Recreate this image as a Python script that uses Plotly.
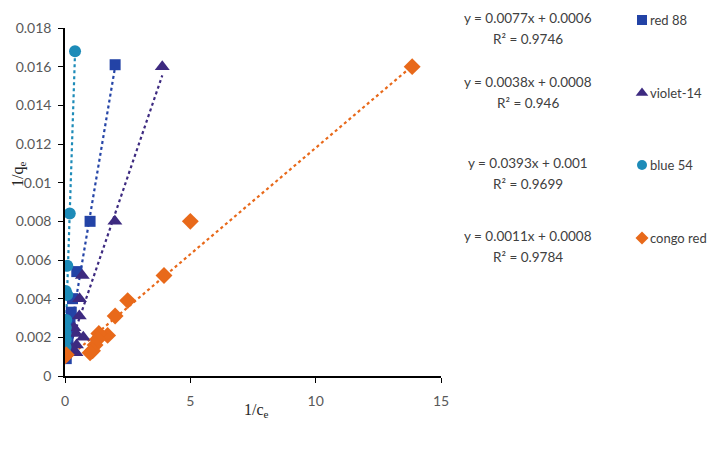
import plotly.graph_objects as go

# data
red88_x = [2.0, 1.0, 0.47, 0.30, 0.25, 0.20, 0.15, 0.12, 0.08, 0.05]
red88_y = [0.0161, 0.0080, 0.0054, 0.0040, 0.0033, 0.0028, 0.0024, 0.0019, 0.0014, 0.0009]

violet_x = [3.88, 1.99, 0.69, 0.58, 0.57, 0.36, 0.44, 0.73, 0.46, 0.44, 0.30]
violet_y = [0.0160, 0.0080, 0.0052, 0.0040, 0.0031, 0.0025, 0.0022, 0.0020, 0.0016, 0.0012, 0.0014]

blue54_x = [0.40, 0.19, 0.09, 0.03, 0.09, 0.05, 0.03, 0.02, 0.03, 0.02, 0.01]
blue54_y = [0.0168, 0.0084, 0.0057, 0.0044, 0.0042, 0.0029, 0.0025, 0.0022, 0.0019, 0.0015, 0.0012]

congo_x = [13.85, 5.0, 3.95, 2.5, 2.0, 1.7, 1.35, 1.3, 1.2, 1.1, 1.0, 0.0, 0.05]
congo_y = [0.0160, 0.0080, 0.0052, 0.0039, 0.0031, 0.0021, 0.0022, 0.0019, 0.0016, 0.0013, 0.0012, 0.00103, 0.0011]

names = ["red 88", "violet-14", "blue 54", "congo red"]
slopes = [0.0077, 0.0038, 0.0393, 0.0011]
intercepts = [0.0006, 0.0008, 0.001, 0.0008]
r2 = ["0.9746", "0.946", "0.9699", "0.9784"]
eq_text = ["y = 0.0077x + 0.0006", "y = 0.0038x + 0.0008", "y = 0.0393x + 0.001", "y = 0.0011x + 0.0008"]

colors = ["#2343A6", "#3D2A80", "#1D8BB8", "#E8691A"]
symbols = ["square", "triangle-up", "circle", "diamond"]
sizes = [11, 13, 12, 13]
xs = [red88_x, violet_x, blue54_x, congo_x]
ys = [red88_y, violet_y, blue54_y, congo_y]

FONT = "Lato, Roboto, sans-serif"
SERIF = "Liberation Serif, serif"

W, H = 708, 450
# plot area in pixels
X0, X1, Y0, Y1 = 65, 441, 28, 376

fig = go.Figure()

for i in range(4):
    # dotted linear trendline over the data range
    x0, x1 = min(xs[i]), max(xs[i])
    fig.add_trace(go.Scatter(
        x=[x0, x1],
        y=[slopes[i] * x0 + intercepts[i], slopes[i] * x1 + intercepts[i]],
        mode='lines',
        line=dict(color=colors[i], width=2.2, dash='dot'),
        showlegend=False, hoverinfo='skip'
    ))

for i in range(4):
    fig.add_trace(go.Scatter(
        x=xs[i], y=ys[i],
        mode='markers',
        name=names[i],
        marker=dict(symbol=symbols[i], color=colors[i], size=sizes[i], opacity=1),
        showlegend=False
    ))

# legend, equations and titles laid out on a full-page pixel subplot (x2/y2)
eq_y = [18, 82, 163, 236]
leg_y = [20, 93, 165, 238]
for i in range(4):
    fig.add_trace(go.Scatter(
        x=[642], y=[leg_y[i]],
        xaxis='x2', yaxis='y2', mode='markers',
        marker=dict(symbol=symbols[i], color=colors[i], size=[10, 11, 10, 10][i], opacity=1),
        showlegend=False, hoverinfo='skip'
    ))

for i in range(4):
    fig.add_annotation(
        x=528, y=eq_y[i], xref='x2', yref='y2', text=eq_text[i],
        showarrow=False, font=dict(family=FONT, size=13.5, color="#404040"),
        xanchor='center', yanchor='middle'
    )
    fig.add_annotation(
        x=528, y=eq_y[i] + 21, xref='x2', yref='y2', text="R² = " + r2[i],
        showarrow=False, font=dict(family=FONT, size=13.5, color="#404040"),
        xanchor='center', yanchor='middle'
    )
    fig.add_annotation(
        x=648, y=leg_y[i], xref='x2', yref='y2', text=names[i],
        showarrow=False, font=dict(family=FONT, size=13, color="#404040"),
        xanchor='left', yanchor='middle'
    )

fig.add_annotation(x=18, y=175, xref='x2', yref='y2',
                   text="1/q<sub>e</sub>", textangle=-90, showarrow=False,
                   font=dict(family=SERIF, size=16, color="#262626"))
fig.add_annotation(x=256, y=410, xref='x2', yref='y2',
                   text="1/c<sub>e</sub>", showarrow=False,
                   font=dict(family=SERIF, size=16, color="#262626"))

fig.update_layout(
    width=W, height=H,
    margin=dict(l=0, r=0, t=0, b=0),
    plot_bgcolor='rgba(0,0,0,0)', paper_bgcolor='white',
    showlegend=False,
    font=dict(family=FONT, size=14, color="#595959"),
    xaxis=dict(
        domain=[X0 / W, X1 / W], anchor='y',
        range=[0, 15], tickvals=[0, 5, 10, 15],
        showline=True, linecolor='black', linewidth=1.5,
        ticks='outside', ticklen=5, tickcolor='black', ticklabelstandoff=6,
        showgrid=False, zeroline=False, automargin=False,
        tickfont=dict(family=FONT, size=14, color="#595959")
    ),
    yaxis=dict(
        domain=[1 - Y1 / H, 1 - Y0 / H], anchor='x',
        range=[0, 0.018], tickvals=[0, 0.002, 0.004, 0.006, 0.008, 0.01, 0.012, 0.014, 0.016, 0.018],
        ticktext=["0", "0.002", "0.004", "0.006", "0.008", "0.01", "0.012", "0.014", "0.016", "0.018"],
        showline=True, linecolor='black', linewidth=1.5,
        ticks='outside', ticklen=5, tickcolor='black', ticklabelstandoff=4,
        showgrid=False, zeroline=False, automargin=False,
        tickfont=dict(family=FONT, size=14, color="#595959")
    ),
    xaxis2=dict(domain=[0, 1], range=[0, W], anchor='y2',
                visible=False, fixedrange=True),
    yaxis2=dict(domain=[0, 1], range=[H, 0], anchor='x2',
                visible=False, fixedrange=True),
)

fig.write_html("out.html", config={"displayModeBar": False},
               post_script="document.body.style.margin='0px';")
